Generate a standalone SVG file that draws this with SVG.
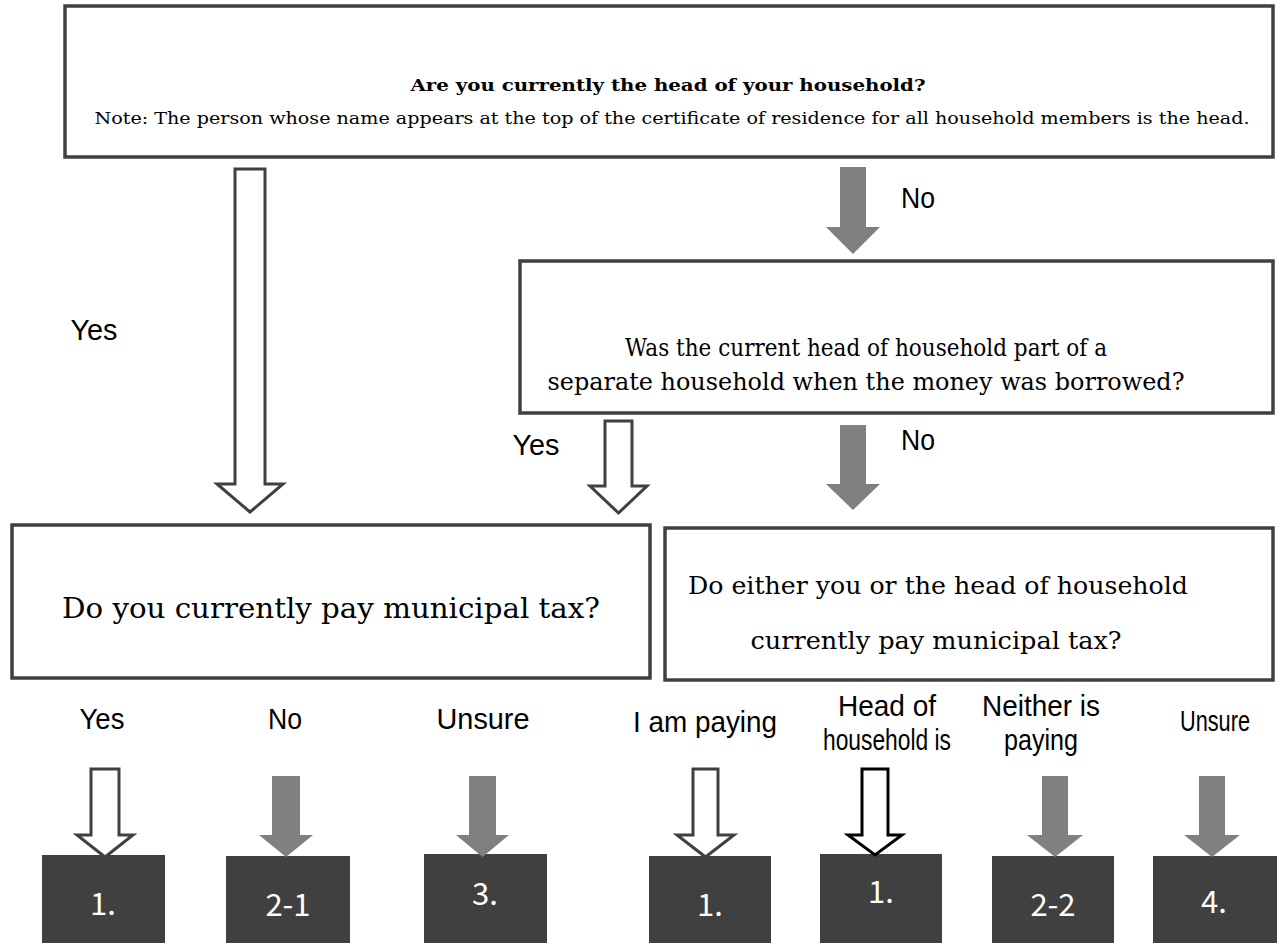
<svg xmlns="http://www.w3.org/2000/svg" width="1277" height="943" viewBox="0 0 1277 943">
<style>
.box{fill:#fff;stroke:#404040;stroke-width:3.5}
.serif{font-family:"DejaVu Serif","Liberation Serif",serif;fill:#000;text-anchor:middle}
.lbl{font-family:"Liberation Sans",Arial,sans-serif;font-size:30px;fill:#000;text-anchor:middle}
.res{fill:#404040}
.restxt{font-family:"Noto Sans CJK JP","Noto Sans",sans-serif;font-size:31px;fill:#fff;text-anchor:middle}
.hollow{fill:#fff;stroke:#404040;stroke-width:3;stroke-linejoin:miter}
.hollowk{fill:#fff;stroke:#000;stroke-width:3;stroke-linejoin:miter}
.gray{fill:#808080}
</style>
<rect width="1277" height="943" fill="#fff"/>
<g id="q1">
<rect class="box" x="65" y="6" width="1208" height="151"/>
<text class="serif" x="668" y="91" font-size="17.5" font-weight="bold" textLength="515" lengthAdjust="spacingAndGlyphs">Are you currently the head of your household?</text>
<text class="serif" x="672" y="124" font-size="16.5" textLength="1155" lengthAdjust="spacingAndGlyphs">Note: The person whose name appears at the top of the certificate of residence for all household members is the head.</text>
</g>
<g id="q2">
<rect class="box" x="520" y="261" width="753" height="152"/>
<text class="serif" x="866" y="356" font-size="23.5" textLength="482" lengthAdjust="spacingAndGlyphs">Was the current head of household part of a</text>
<text class="serif" x="866" y="390" font-size="23.5" textLength="637" lengthAdjust="spacingAndGlyphs">separate household when the money was borrowed?</text>
</g>
<g id="q3">
<rect class="box" x="12" y="525" width="638" height="153"/>
<text class="serif" x="331" y="618" font-size="28" textLength="538" lengthAdjust="spacingAndGlyphs">Do you currently pay municipal tax?</text>
</g>
<g id="q4">
<rect class="box" x="665" y="528" width="608" height="152"/>
<text class="serif" x="938" y="594" font-size="24" textLength="500" lengthAdjust="spacingAndGlyphs">Do either you or the head of household</text>
<text class="serif" x="936" y="649" font-size="24" textLength="371" lengthAdjust="spacingAndGlyphs">currently pay municipal tax?</text>
</g>
<g id="r1"><rect class="res" x="42" y="855" width="123" height="88"/><text class="restxt" x="103" y="915">1.</text></g>
<g id="r2"><rect class="res" x="226" y="856" width="124" height="87"/><text class="restxt" x="288" y="916">2-1</text></g>
<g id="r3"><rect class="res" x="424" y="854" width="123" height="89"/><text class="restxt" x="485" y="905">3.</text></g>
<g id="r4"><rect class="res" x="649" y="856" width="122" height="87"/><text class="restxt" x="710" y="916">1.</text></g>
<g id="r5"><rect class="res" x="820" y="854" width="122" height="89"/><text class="restxt" x="881" y="903">1.</text></g>
<g id="r6"><rect class="res" x="992" y="856" width="122" height="87"/><text class="restxt" x="1053" y="916">2-2</text></g>
<g id="r7"><rect class="res" x="1153" y="856" width="124" height="87"/><text class="restxt" x="1214" y="913">4.</text></g>
<g id="connectors">
<polygon class="hollow" points="235,169 265,169 265,484 283,484 250,512 217,484 235,484"/>
<polygon class="gray" points="840,167 866,167 866,227 880,227 853,254 826,227 840,227"/>
<polygon class="hollow" points="605,421 632,421 632,486 647,486 618.5,513 590,486 605,486"/>
<polygon class="gray" points="840,425 866,425 866,484 880,484 853,510 826,484 840,484"/>
<polygon class="hollow" points="91,769 119,769 119,835 133,835 105,857 77,835 91,835"/>
<polygon class="gray" points="272,776 300,776 300,835 313,835 286,857 259,835 272,835"/>
<polygon class="gray" points="469,776 496,776 496,835 509,835 482.5,857 456,835 469,835"/>
<polygon class="hollow" points="693,769 718,769 718,835 734,835 705.5,857 677,835 693,835"/>
<polygon class="hollowk" points="862,769 888,769 888,835 902,835 875,855 848,835 862,835"/>
<polygon class="gray" points="1042,776 1068,776 1068,835 1083,835 1055,857 1027,835 1042,835"/>
<polygon class="gray" points="1199,776 1225,776 1225,835 1240,835 1212,857 1184,835 1199,835"/>
<text class="lbl" x="94" y="340" textLength="47" lengthAdjust="spacingAndGlyphs">Yes</text>
<text class="lbl" x="918" y="208" textLength="34" lengthAdjust="spacingAndGlyphs">No</text>
<text class="lbl" x="536" y="455" textLength="47" lengthAdjust="spacingAndGlyphs">Yes</text>
<text class="lbl" x="918" y="450" textLength="34" lengthAdjust="spacingAndGlyphs">No</text>
<text class="lbl" x="102" y="729" textLength="45" lengthAdjust="spacingAndGlyphs">Yes</text>
<text class="lbl" x="285" y="729" textLength="34" lengthAdjust="spacingAndGlyphs">No</text>
<text class="lbl" x="483" y="729" textLength="93" lengthAdjust="spacingAndGlyphs">Unsure</text>
<text class="lbl" x="705" y="732" textLength="144" lengthAdjust="spacingAndGlyphs">I am paying</text>
<text class="lbl" x="887" y="716" textLength="98" lengthAdjust="spacingAndGlyphs">Head of</text>
<text class="lbl" x="887" y="750" textLength="128" lengthAdjust="spacingAndGlyphs">household is</text>
<text class="lbl" x="1041" y="716" textLength="118" lengthAdjust="spacingAndGlyphs">Neither is</text>
<text class="lbl" x="1041" y="750" textLength="74" lengthAdjust="spacingAndGlyphs">paying</text>
<text class="lbl" x="1215" y="731" font-size="27" textLength="70" lengthAdjust="spacingAndGlyphs">Unsure</text>
</g>
</svg>
